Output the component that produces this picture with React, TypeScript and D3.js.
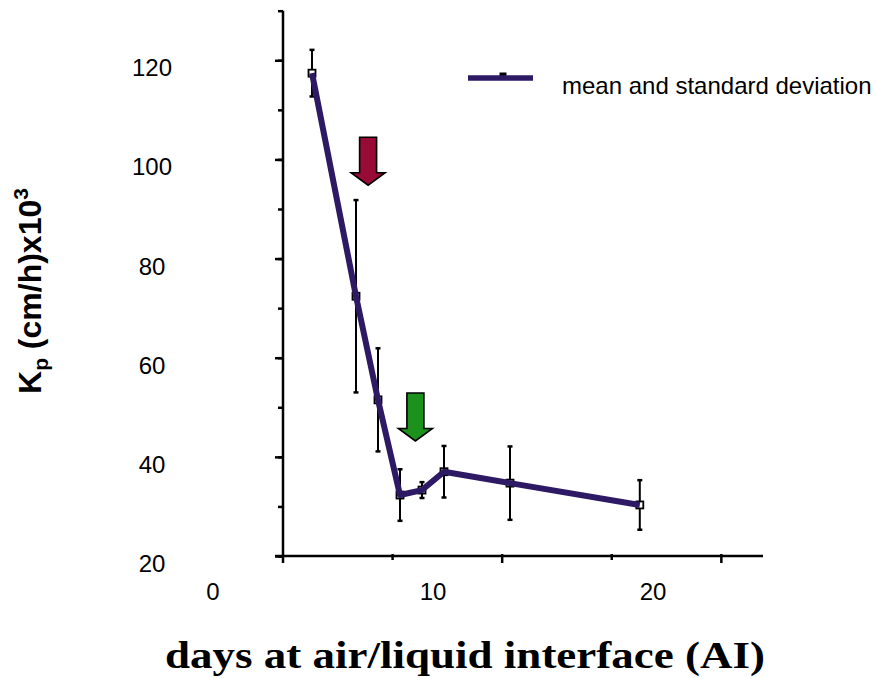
import React, { useEffect, useRef } from 'react'
import * as d3 from 'd3'

// values
const days = [4.5, 6.5, 7.5, 8.5, 9.5, 10.5, 13.5, 19.4]
const kpMean = [117.4, 72.4, 51.5, 32.3, 33.3, 37.0, 34.7, 30.3]
const kpSd = [4.7, 19.4, 10.4, 5.2, 1.6, 5.2, 7.4, 5.0]

const yTickValues = [20, 30, 40, 50, 60, 70, 80, 90, 100, 110, 120, 130]
const yLabelValues = [20, 40, 60, 80, 100, 120]
const xLabelValues = [0, 10, 20]
const xTickValues = [0, 5, 10, 15, 20]

// arrow annotations (day, value at the tip)
const arrowDays = [7.05, 9.2]
const arrowTips = [94.8, 43.2]
const arrowColors = ['#970b36', '#1c921c']

const lineColor = '#2e1a64'
const sans = '"Liberation Sans", Arial, sans-serif'

const App = () => {
  const svgRef = useRef<SVGSVGElement>(null)

  useEffect(() => {
    const w = 876
    const h = 678
    const svg = d3.select(svgRef.current)
    svg.selectAll('*').remove()
    svg.attr('width', w).attr('height', h)

    const y = d3.scaleLinear().domain([20, 130]).range([556, 10.7])
    // data scale (matches the printed labels)
    const x = d3.scaleLinear().domain([0, 20]).range([213, 653])
    // frame scale for the drawn axis ticks
    const xFrame = d3.scaleLinear().domain([0, 21.9]).range([283, 763])

    const axisX = xFrame(0)

    // y axis: minor ticks, then major
    svg.append('g')
      .attr('transform', `translate(${axisX},0)`)
      .call(d3.axisLeft(y).tickValues(yTickValues).tickSize(5).tickFormat(() => ''))
      .call(g => g.select('.domain').remove())
      .call(g => g.selectAll('line').attr('stroke', '#000').attr('stroke-width', 2.5))
    svg.append('g')
      .attr('transform', `translate(${axisX},0)`)
      .call(d3.axisLeft(y).tickValues(yLabelValues).tickSize(8).tickFormat(() => ''))
      .call(g => g.select('.domain').remove())
      .call(g => g.selectAll('line').attr('stroke', '#000').attr('stroke-width', 2.5))
    svg.append('line')
      .attr('x1', axisX).attr('x2', axisX)
      .attr('y1', y(130)).attr('y2', y(20) + 7)
      .attr('stroke', '#000').attr('stroke-width', 2.5)

    svg.append('g')
      .selectAll('text')
      .data(yLabelValues)
      .join('text')
      .attr('x', 152)
      .attr('y', d => y(d) + 16)
      .attr('text-anchor', 'middle')
      .style('font-family', sans)
      .style('font-size', '24px')
      .text(d => d)

    // x axis
    svg.append('line')
      .attr('x1', axisX - 8).attr('x2', xFrame(21.9))
      .attr('y1', y(20)).attr('y2', y(20))
      .attr('stroke', '#000').attr('stroke-width', 2.5)
    svg.append('g')
      .selectAll('line')
      .data(xTickValues.slice(1))
      .join('line')
      .attr('x1', d => xFrame(d)).attr('x2', d => xFrame(d))
      .attr('y1', y(20) - 2)
      .attr('y2', d => y(20) + (d % 10 === 0 ? 7 : 4))
      .attr('stroke', '#000').attr('stroke-width', 2.5)

    svg.append('g')
      .selectAll('text')
      .data(xLabelValues)
      .join('text')
      .attr('x', d => x(d))
      .attr('y', 600)
      .attr('text-anchor', 'middle')
      .style('font-family', sans)
      .style('font-size', '24px')
      .text(d => d)

    // error bars
    const pts = days.map((d, i) => ({ d, m: kpMean[i], s: kpSd[i] }))
    const eb = svg.append('g').attr('stroke', '#000').attr('stroke-width', 2)
    pts.forEach(p => {
      const cx = x(p.d)
      eb.append('line').attr('x1', cx).attr('x2', cx)
        .attr('y1', y(p.m + p.s)).attr('y2', y(p.m - p.s))
      ;[p.m + p.s, p.m - p.s].forEach(v => {
        eb.append('line').attr('x1', cx - 2.5).attr('x2', cx + 2.5)
          .attr('y1', y(v)).attr('y2', y(v)).attr('stroke-width', 2.5)
      })
    })

    // markers
    svg.append('g')
      .selectAll('rect')
      .data(pts)
      .join('rect')
      .attr('x', p => x(p.d) - 3.5)
      .attr('y', p => y(p.m) - 3.5)
      .attr('width', 7).attr('height', 7)
      .attr('fill', '#fff').attr('stroke', '#000').attr('stroke-width', 1.8)

    // mean line
    const line = d3.line<{ d: number; m: number }>()
      .x(p => x(p.d))
      .y(p => y(p.m))
    svg.append('path')
      .datum(pts)
      .attr('d', line)
      .attr('fill', 'none')
      .attr('stroke', lineColor)
      .attr('stroke-width', 6)
      .attr('stroke-linejoin', 'round')

    // arrows
    const arrowPath = 'M-8.5,-48 L8.5,-48 L8.5,-12.5 L17,-12.5 L0,0 L-17,-12.5 L-8.5,-12.5 Z'
    arrowDays.forEach((d, i) => {
      svg.append('path')
        .attr('d', arrowPath)
        .attr('transform', `translate(${x(d)},${y(arrowTips[i])})`)
        .attr('fill', arrowColors[i])
        .attr('stroke', '#000')
        .attr('stroke-width', 1.6)
        .attr('stroke-linejoin', 'miter')
    })

    // legend
    const lg = svg.append('g')
    lg.append('rect').attr('x', 499.5).attr('y', 72.5).attr('width', 7).attr('height', 7).attr('fill', '#000')
    lg.append('line').attr('x1', 468).attr('x2', 533).attr('y1', 78).attr('y2', 78)
      .attr('stroke', lineColor).attr('stroke-width', 5.5)
    lg.append('text').attr('x', 562).attr('y', 94)
      .style('font-family', sans).style('font-size', '24px')
      .text('mean and standard deviation')

    // axis titles
    const yt = svg.append('text')
      .attr('transform', 'translate(41,291) rotate(-90)')
      .attr('text-anchor', 'middle')
      .style('font-family', sans)
      .style('font-size', '32px')
      .style('font-weight', 'bold')
    yt.append('tspan').text('K')
    yt.append('tspan').attr('dy', 7).style('font-size', '21px').text('p')
    yt.append('tspan').attr('dy', -7).text(' (cm/h)x10')
    yt.append('tspan').attr('dy', -13).style('font-size', '21px').text('3')

    svg.append('text')
      .attr('x', 465)
      .attr('y', 668)
      .attr('text-anchor', 'middle')
      .attr('textLength', 600)
      .attr('lengthAdjust', 'spacingAndGlyphs')
      .style('font-family', '"Liberation Serif", "Times New Roman", serif')
      .style('font-size', '37px')
      .style('font-weight', 'bold')
      .text('days at air/liquid interface (AI)')
  }, [])

  return (
    <svg ref={svgRef} style={{ position: 'absolute', left: 0, top: 0, background: '#fff' }} />
  )
}

export default App
